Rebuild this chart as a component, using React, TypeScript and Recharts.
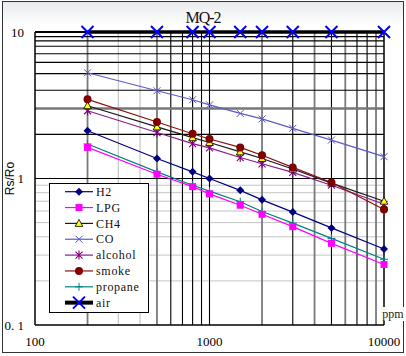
import { Legend, Line, LineChart, ReferenceLine, XAxis, YAxis } from "recharts";

// concentration points (ppm)
const ppm = [200, 500, 800, 1000, 1500, 2000, 3000, 5000, 10000];

// Rs/Ro per gas
const h2 = [2.12, 1.37, 1.11, 1.0, 0.83, 0.715, 0.59, 0.46, 0.33];
const lpg = [1.63, 1.07, 0.88, 0.785, 0.657, 0.57, 0.469, 0.361, 0.259];
const ch4 = [3.14, 2.25, 1.9, 1.76, 1.52, 1.37, 1.16, 0.93, 0.7];
const co = [5.27, 3.97, 3.45, 3.18, 2.78, 2.55, 2.2, 1.83, 1.41];
const alcohol = [2.9, 2.06, 1.73, 1.62, 1.39, 1.26, 1.1, 0.9, 0.667];
const smoke = [3.47, 2.43, 2.02, 1.86, 1.63, 1.44, 1.19, 0.94, 0.615];
const propane = [1.72, 1.11, 0.9, 0.82, 0.694, 0.595, 0.496, 0.39, 0.281];
const air = [10, 10, 10, 10, 10, 10, 10, 10, 10];

const xTicks = [100, 1000, 10000];
const yTicks = [0.1, 1, 10];

// log grid
const vGridLight = [300, 400];
const vGridGray = [200, 500, 2000, 4000, 6000, 9000];
const vGridDark = [600, 700, 800, 900, 1000, 3000, 5000, 7000, 8000];
const hGridLow = [0.2, 0.3, 0.4, 0.5, 0.6, 0.7, 0.8, 0.9];
const hGridHigh = [1, 2, 4, 5.2, 6.2, 7.1, 8, 8.7, 9.3];
const hGridThick = [3];

const rows = ppm.map((p, i) => ({
  ppm: p,
  H2: h2[i],
  LPG: lpg[i],
  CH4: ch4[i],
  CO: co[i],
  alcohol: alcohol[i],
  smoke: smoke[i],
  propane: propane[i],
  air: air[i],
}));

type Kind = "diamond" | "square" | "triangle" | "x" | "star" | "circle" | "plus" | "bigx";

interface ISeries {
  key: string;
  color: string;
  line: string;
  kind: Kind;
}

const series: ISeries[] = [
  { key: "H2", color: "#000080", line: "#000080", kind: "diamond" },
  { key: "LPG", color: "#ff00ff", line: "#ff00ff", kind: "square" },
  { key: "CH4", color: "#ffff00", line: "#1a1a1a", kind: "triangle" },
  { key: "CO", color: "#5656c8", line: "#5c5cc8", kind: "x" },
  { key: "alcohol", color: "#800080", line: "#8b1a8b", kind: "star" },
  { key: "smoke", color: "#800000", line: "#8b1010", kind: "circle" },
  { key: "propane", color: "#008080", line: "#008080", kind: "plus" },
  { key: "air", color: "#0000ff", line: "#000000", kind: "bigx" },
];

const drawOrder = ["propane", "LPG", "H2", "CO", "alcohol", "CH4", "smoke", "air"];

const serif = '"Liberation Serif", "DejaVu Serif", serif';

function Marker({ kind, x, y, color }: { kind: Kind; x: number; y: number; color: string }) {
  switch (kind) {
    case "diamond":
      return <path d={`M${x},${y - 4}L${x + 4},${y}L${x},${y + 4}L${x - 4},${y}Z`} fill={color} />;
    case "square":
      return <rect x={x - 3.5} y={y - 3.5} width={7} height={7} fill={color} />;
    case "triangle":
      return (
        <path d={`M${x},${y - 4}L${x + 3.8},${y + 3}L${x - 3.8},${y + 3}Z`} fill={color} stroke="#000" strokeWidth={0.8} />
      );
    case "x":
      return (
        <path d={`M${x - 3.5},${y - 3.5}L${x + 3.5},${y + 3.5}M${x - 3.5},${y + 3.5}L${x + 3.5},${y - 3.5}`} stroke={color} strokeWidth={1} />
      );
    case "star":
      return (
        <path
          d={`M${x - 3.5},${y - 3.5}L${x + 3.5},${y + 3.5}M${x - 3.5},${y + 3.5}L${x + 3.5},${y - 3.5}M${x},${y - 4.5}L${x},${y + 4.5}`}
          stroke={color}
          strokeWidth={1.1}
        />
      );
    case "circle":
      return <circle cx={x} cy={y} r={4} fill={color} />;
    case "plus":
      return <path d={`M${x - 4},${y}L${x + 4},${y}M${x},${y - 4}L${x},${y + 4}`} stroke={color} strokeWidth={1} />;
    case "bigx":
      return (
        <path d={`M${x - 6},${y - 6}L${x + 6},${y + 6}M${x - 6},${y + 6}L${x + 6},${y - 6}`} stroke={color} strokeWidth={2} />
      );
  }
}

const dotFor = (s: ISeries) => (p: { cx?: number; cy?: number; index?: number }) => (
  <g key={`${s.key}-${p.index}`}>
    <Marker kind={s.kind} x={p.cx ?? 0} y={p.cy ?? 0} color={s.color} />
  </g>
);

function LegendBox() {
  return (
    <div
      style={{
        width: 100,
        height: 130,
        border: "1px solid #000",
        background: "#fff",
        boxSizing: "border-box",
      }}
    >
      <svg width={98} height={128} style={{ display: "block" }}>
        {series.map((s, i) => {
          const y = 7.7 + i * 15.85;
          return (
            <g key={s.key}>
              <line x1={15} x2={43} y1={y} y2={y} stroke={s.line} strokeWidth={s.key === "air" ? 4 : 1.2} />
              <Marker kind={s.kind} x={29} y={y} color={s.color} />
              <text x={46} y={y} dy="0.35em" fontSize={12} fontFamily={serif} letterSpacing={0.7} fill="#111">
                {s.key}
              </text>
            </g>
          );
        })}
      </svg>
    </div>
  );
}

export default function App() {
  const ordered = drawOrder.map((k) => series.find((s) => s.key === k)!);
  return (
    <div style={{ position: "absolute", left: 0, top: 0, width: 406, height: 356, background: "#fff" }}>
      <div
        style={{
          position: "absolute",
          left: 2,
          top: 1,
          width: 402,
          height: 352,
          border: "1.5px solid #333",
          boxSizing: "border-box",
          background: "linear-gradient(#e9ebee, #ffffff 24px)",
        }}
      />
      <div
        style={{
          position: "absolute",
          left: 153,
          width: 100,
          top: 9,
          textAlign: "center",
          fontFamily: serif,
          fontSize: 16,
          letterSpacing: -1,
          color: "#111",
        }}
      >
        MQ-2
      </div>
      <LineChart
        width={406}
        height={356}
        data={rows}
        margin={{ top: 32, right: 22, bottom: 0, left: 0 }}
        style={{ position: "absolute", left: 0, top: 0 }}
      >
        <XAxis
          dataKey="ppm"
          type="number"
          scale="log"
          domain={[100, 10000]}
          ticks={xTicks}
          interval={0}
          height={31}
          tickLine={false}
          tickSize={0}
          tickMargin={12}
          axisLine={{ stroke: "#000", strokeWidth: 1.5 }}
          tick={{ fontSize: 13, fill: "#000", fontFamily: serif }}
          label={(props: any) => {
            const vb = props.viewBox;
            const x = vb.x + vb.width + 9;
            const y = vb.y - 11;
            return (
              <g>
                <rect x={x - 10} y={y - 7} width={21} height={14} fill="#fff" />
                <text x={x} y={y} dy="0.35em" textAnchor="middle" fontSize={12} fontFamily={serif} fill="#2a200c">
                  ppm
                </text>
              </g>
            );
          }}
        />
        <YAxis
          type="number"
          scale="log"
          domain={[0.1, 10]}
          ticks={yTicks}
          interval={0}
          width={35}
          tickLine={false}
          tickSize={0}
          tickMargin={11}
          axisLine={{ stroke: "#000", strokeWidth: 1.5 }}
          tick={{ fontSize: 13, fill: "#000", fontFamily: serif }}
          tickFormatter={(v: number) => (v === 0.1 ? "0. 1" : String(v))}
          label={(props: any) => {
            const vb = props.viewBox;
            const x = vb.x + 10;
            const y = vb.y + vb.height / 2;
            return (
              <text
                x={x}
                y={y}
                dy="0.35em"
                textAnchor="middle"
                transform={`rotate(-90 ${x} ${y})`}
                fontSize={12}
                fontFamily='"Liberation Sans", Arial, sans-serif'
                fill="#000"
              >
                Rs/Ro
              </text>
            );
          }}
        />
        {hGridLow.map((v) => (
          <ReferenceLine key={`hl${v}`} y={v} stroke="#c4c4c4" strokeWidth={1} />
        ))}
        {vGridLight.map((v) => (
          <ReferenceLine key={`vl${v}`} x={v} stroke="#b8b8b8" strokeWidth={1} />
        ))}
        {vGridGray.map((v) => (
          <ReferenceLine key={`vg${v}`} x={v} stroke="#7a7a7a" strokeWidth={1.8} />
        ))}
        {vGridDark.map((v) => (
          <ReferenceLine key={`vd${v}`} x={v} stroke="#000" strokeWidth={1.1} />
        ))}
        {hGridHigh.map((v) => (
          <ReferenceLine key={`hh${v}`} y={v} stroke="#000" strokeWidth={1.1} />
        ))}
        {hGridThick.map((v) => (
          <ReferenceLine key={`ht${v}`} y={v} stroke="#777" strokeWidth={2.5} />
        ))}
        <ReferenceLine x={10000} stroke="#000" strokeWidth={1.5} />
        <ReferenceLine y={10} stroke="#000" strokeWidth={2} />
        {ordered.map((s) => (
          <Line
            key={s.key}
            dataKey={s.key}
            stroke={s.line}
            strokeWidth={s.key === "air" ? 3.5 : 1.2}
            dot={dotFor(s)}
            activeDot={false}
            isAnimationActive={false}
          />
        ))}
        <Legend
          layout="horizontal"
          verticalAlign="middle"
          align="center"
          content={() => <LegendBox />}
          wrapperStyle={{ position: "absolute", left: 49, top: 183, width: 100, height: 130 }}
        />
      </LineChart>
    </div>
  );
}
